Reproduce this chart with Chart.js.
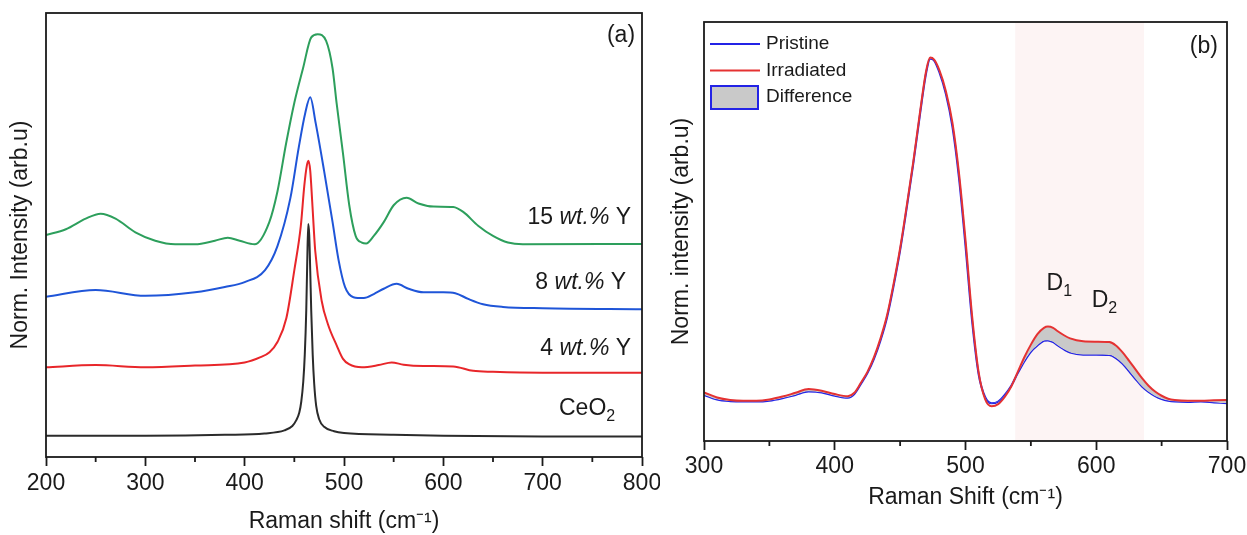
<!DOCTYPE html>
<html>
<head>
<meta charset="utf-8">
<script src="https://cdn.jsdelivr.net/npm/chart.js@4.4.1/dist/chart.umd.min.js"></script>
<style>
  body { margin: 0; background: #fff; }
  .box { position: absolute; top: 0; height: 535px; }
  #boxA { left: 0; width: 660px; }
  #boxB { left: 660px; width: 587px; }
</style>
</head>
<body>
<div class="box" id="boxA"><canvas id="chartA"></canvas></div>
<div class="box" id="boxB"><canvas id="chartB"></canvas></div>
<script>
// ---- panel (a): Y-doped CeO2, stacked spectra ----
const ceo2Shift = [200, 300, 380, 420, 440, 448, 452, 455, 457, 459, 460.5, 462, 463, 464, 465, 466, 467, 468.5, 470, 472, 475, 480, 490, 500, 550, 600, 700, 800];
const ceo2Int   = [4.8, 4.8, 5.0, 5.3, 6.0, 7.0, 8.3, 10.0, 12.5, 17.0, 23.0, 33.0, 44.0, 52.5, 50.0, 42.0, 33.0, 23.0, 16.5, 11.5, 8.5, 6.8, 5.8, 5.4, 5.0, 4.8, 4.6, 4.6];

const y4Shift = [200, 250, 300, 350, 400, 416, 425, 433, 442, 450, 456.5, 460, 462.5, 464.2, 466, 468, 471, 477.5, 484, 492.5, 499, 505, 518, 535, 548, 560, 580, 610, 630, 650, 700, 800];
const y4Int   = [20.2, 20.7, 20.2, 20.6, 21.3, 22.5, 23.6, 25.9, 31.3, 42.1, 52.0, 61.0, 65.5, 66.7, 64.5, 57.5, 46.5, 35.2, 29.8, 25.2, 22.1, 20.9, 20.2, 20.7, 21.3, 20.8, 20.5, 20.4, 19.4, 19.2, 19.0, 19.0];

const y8Shift = [200, 250, 300, 350, 380, 400, 420.5, 433, 446, 454.5, 461, 466, 471.5, 480, 488.5, 494.5, 501, 509.5, 520, 530, 540, 553, 565, 580, 600, 612, 625, 640, 660, 700, 800];
const y8Int   = [36.1, 37.6, 36.3, 37.1, 38.3, 39.4, 42.1, 47.5, 58.3, 69.8, 77.5, 81.0, 75.2, 64.4, 52.9, 44.4, 38.3, 36.0, 35.8, 36.7, 37.9, 39.0, 37.9, 37.1, 37.1, 36.9, 35.6, 34.4, 33.8, 33.5, 33.3];

const y15Shift = [200, 220, 240, 255, 270, 290, 310, 330, 350, 370, 383, 395, 410, 424.8, 433, 441.7, 450, 458.7, 467, 473.5, 482, 488.5, 492.5, 499, 505.3, 511.7, 518, 522.3, 530, 540, 550, 563, 575, 590, 610, 620, 635, 650, 665, 680, 800];
const y15Int   = [50.0, 51.3, 53.7, 54.8, 53.7, 50.6, 48.7, 47.9, 47.9, 48.7, 49.4, 48.7, 47.9, 52.9, 59.8, 70.6, 79.8, 87.5, 94.5, 95.2, 93.7, 87.5, 79.8, 68.3, 56.7, 49.8, 48.3, 48.1, 49.8, 52.9, 56.7, 58.4, 57.1, 56.4, 56.3, 55.2, 52.1, 49.8, 48.3, 47.9, 48.0];

// ---- panel (b): pristine vs irradiated ----
const shiftB = [300, 310, 320, 330, 340, 350, 360, 370, 380, 390, 400, 410, 415, 420, 425, 430, 435, 440, 445, 450, 455, 460, 465, 470, 473, 476, 480, 485, 490, 495, 500, 505, 510, 515, 520, 525, 530, 535, 540, 545, 550, 555, 560, 563, 567, 570, 575, 580, 590, 600, 610, 615, 620, 625, 630, 635, 640, 645, 650, 655, 660, 670, 680, 690, 700];
const irradiated = [11.6, 10.4, 9.8, 9.6, 9.6, 9.9, 10.6, 11.5, 12.4, 12.0, 11.2, 10.7, 11.5, 13.9, 16.5, 20.0, 24.5, 30.0, 37.5, 46.0, 56.0, 66.5, 78.0, 88.5, 91.5, 91.0, 88.5, 83.5, 76.0, 64.0, 48.0, 30.0, 16.5, 10.0, 8.3, 8.8, 10.5, 13.0, 16.5, 20.0, 23.0, 25.5, 27.0, 27.3, 27.0, 26.3, 25.3, 24.5, 23.8, 23.7, 23.6, 22.8, 21.2, 19.2, 17.1, 15.0, 13.2, 11.8, 10.8, 10.1, 9.8, 9.6, 9.6, 9.7, 9.8];
const pristine   = [11.0, 9.9, 9.5, 9.4, 9.4, 9.6, 10.2, 11.0, 11.8, 11.6, 10.8, 10.3, 11.2, 13.6, 16.2, 19.6, 24.0, 29.5, 37.0, 45.5, 55.5, 66.0, 77.5, 88.0, 91.2, 90.8, 88.0, 82.8, 75.0, 62.8, 46.5, 28.8, 16.0, 10.5, 9.0, 9.4, 11.0, 13.2, 16.2, 19.0, 21.3, 22.8, 23.9, 24.0, 23.6, 22.9, 21.9, 21.1, 20.6, 20.6, 20.5, 19.8, 18.5, 16.7, 14.8, 13.0, 11.7, 10.7, 10.0, 9.6, 9.4, 9.3, 9.4, 9.2, 9.0];
const defectBand = [538, 636.5];

const ticksA = [200, 800];
const ticksB = [300, 700];
const minorA = [250, 350, 450, 550, 650, 750];
const minorB = [350, 450, 550, 650];

const FONT = '"Liberation Sans", Arial, sans-serif';
const INK = '#1a1a1a';
Chart.defaults.font.family = FONT;
Chart.defaults.color = INK;

function pts(xs, ys) {
  return xs.map((x, i) => ({ x: x, y: ys[i] }));
}

function line(label, xs, ys, color) {
  return {
    label: label,
    data: pts(xs, ys),
    borderColor: color,
    backgroundColor: color,
    borderWidth: 2,
    pointRadius: 0,
    cubicInterpolationMode: 'monotone',
    fill: false
  };
}

function axes(range, xTitle, yTitle, yPad, xHeight, yWidth, tickPad) {
  return {
    x: {
      type: 'linear', min: range[0], max: range[1],
      ticks: { stepSize: 100, autoSkip: false, maxRotation: 0, padding: tickPad, font: { size: 23 }, color: INK },
      grid: { display: true, drawOnChartArea: false, drawTicks: true, tickLength: 9, tickWidth: 1.8, tickColor: INK },
      border: { display: false },
      title: { display: true, text: xTitle, font: { size: 23 }, color: INK, padding: { top: 0, bottom: 0 } },
      afterFit: (s) => { s.height = xHeight; s.paddingLeft = 0; s.paddingRight = 0; }
    },
    y: {
      min: 0, max: 100,
      ticks: { display: false },
      grid: { display: false },
      border: { display: false },
      title: { display: true, text: yTitle, font: { size: 23 }, color: INK, padding: { top: yPad, bottom: 0 } },
      afterFit: (s) => { s.width = yWidth; s.paddingTop = 0; s.paddingBottom = 0; }
    }
  };
}

function drawRich(ctx, parts, xRight, yMid) {
  let total = 0;
  parts.forEach(p => { ctx.font = p.font; total += ctx.measureText(p.text).width; });
  let x = xRight - total;
  parts.forEach(p => {
    ctx.font = p.font;
    ctx.fillText(p.text, x, yMid + (p.dy || 0));
    x += ctx.measureText(p.text).width;
  });
}

const fN = '23px ' + FONT;
const fI = 'italic 23px ' + FONT;
const fS = '16px ' + FONT;

// frame + minor ticks + text annotations
function decor(minor, band, notes, legend) {
  return {
    id: 'decor',
    beforeDatasetsDraw(chart) {
      if (!band) return;
      const { ctx, chartArea: a, scales } = chart;
      const x0 = scales.x.getPixelForValue(band[0]);
      const x1 = scales.x.getPixelForValue(band[1]);
      ctx.save();
      ctx.fillStyle = '#fdf4f4';
      ctx.fillRect(x0, a.top, x1 - x0, a.bottom - a.top);
      ctx.restore();
    },
    afterDraw(chart) {
      const { ctx, chartArea: a, scales } = chart;
      ctx.save();
      ctx.strokeStyle = INK;
      ctx.lineWidth = 1.8;
      ctx.strokeRect(a.left, a.top, a.right - a.left, a.bottom - a.top);
      ctx.beginPath();
      minor.forEach(v => {
        const x = scales.x.getPixelForValue(v);
        ctx.moveTo(x, a.bottom);
        ctx.lineTo(x, a.bottom + 5);
      });
      ctx.stroke();

      ctx.fillStyle = INK;
      ctx.textBaseline = 'middle';
      ctx.textAlign = 'left';
      notes.forEach(n => {
        drawRich(ctx, n.parts, scales.x.getPixelForValue(n.x), scales.y.getPixelForValue(n.y));
      });

      if (legend) {
        const lx = a.left + 6;
        ctx.font = '19px ' + FONT;
        legend.forEach((item, i) => {
          const ly = a.top + 22 + i * 26.5;
          if (item.box) {
            ctx.fillStyle = '#c9c9c9';
            ctx.fillRect(lx + 1, ly - 11, 47, 23);
            ctx.strokeStyle = item.color;
            ctx.lineWidth = 2;
            ctx.strokeRect(lx + 1, ly - 11, 47, 23);
          } else {
            ctx.strokeStyle = item.color;
            ctx.lineWidth = 2;
            ctx.beginPath();
            ctx.moveTo(lx, ly);
            ctx.lineTo(lx + 50, ly);
            ctx.stroke();
          }
          ctx.fillStyle = INK;
          ctx.fillText(item.label, lx + 56, ly);
        });
      }
      ctx.restore();
    }
  };
}

const notesA = [
  { x: 793, y: 95.0, parts: [{ text: '(a)', font: fN }] },
  { x: 789, y: 53.9, parts: [{ text: '15 ', font: fN }, { text: 'wt.%', font: fI }, { text: ' Y', font: fN }] },
  { x: 784, y: 39.2, parts: [{ text: '8 ', font: fN }, { text: 'wt.%', font: fI }, { text: ' Y', font: fN }] },
  { x: 789, y: 24.5, parts: [{ text: '4 ', font: fN }, { text: 'wt.%', font: fI }, { text: ' Y', font: fN }] },
  { x: 773, y: 10.9, parts: [{ text: 'CeO', font: fN }, { text: '2', font: fS, dy: 8 }] }
];

const notesB = [
  { x: 693, y: 94.0, parts: [{ text: '(b)', font: fN }] },
  { x: 581.5, y: 37.5, parts: [{ text: 'D', font: fN }, { text: '1', font: fS, dy: 8 }] },
  { x: 616, y: 33.4, parts: [{ text: 'D', font: fN }, { text: '2', font: fS, dy: 8 }] }
];

const legendB = [
  { label: 'Pristine', color: '#2323e6' },
  { label: 'Irradiated', color: '#e53232' },
  { label: 'Difference', color: '#2323e6', box: true }
];

new Chart(document.getElementById('chartA'), {
  type: 'line',
  data: {
    datasets: [
      line('CeO2', ceo2Shift, ceo2Int, '#2b2b2b'),
      line('4 wt.% Y', y4Shift, y4Int, '#e8262a'),
      line('8 wt.% Y', y8Shift, y8Int, '#1f55d8'),
      line('15 wt.% Y', y15Shift, y15Int, '#2d9f5c')
    ]
  },
  options: {
    responsive: true,
    maintainAspectRatio: false,
    animation: false,
    layout: { padding: { left: 0, top: 13, right: 18, bottom: 0 } },
    plugins: { legend: { display: false }, tooltip: { enabled: false } },
    scales: axes(ticksA, 'Raman shift (cm\u207B\u00B9)', 'Norm. Intensity (arb.u)', 7, 78, 46, 4)
  },
  plugins: [decor(minorA, null, notesA, null)]
});

const irrLine = line('Irradiated', shiftB, irradiated, '#e53232');
irrLine.fill = { target: 1, above: '#c9c9c9', below: 'rgba(0,0,0,0)' };

new Chart(document.getElementById('chartB'), {
  type: 'line',
  data: {
    datasets: [
      irrLine,
      line('Pristine', shiftB, pristine, '#2323e6')
    ]
  },
  options: {
    responsive: true,
    maintainAspectRatio: false,
    animation: false,
    layout: { padding: { left: 0, top: 22, right: 20, bottom: 24 } },
    plugins: { legend: { display: false }, tooltip: { enabled: false } },
    scales: axes(ticksB, 'Raman Shift (cm\u207B\u00B9)', 'Norm. intensity (arb.u)', 8, 70, 44, 3)
  },
  plugins: [decor(minorB, defectBand, notesB, legendB)]
});
</script>
</body>
</html>
